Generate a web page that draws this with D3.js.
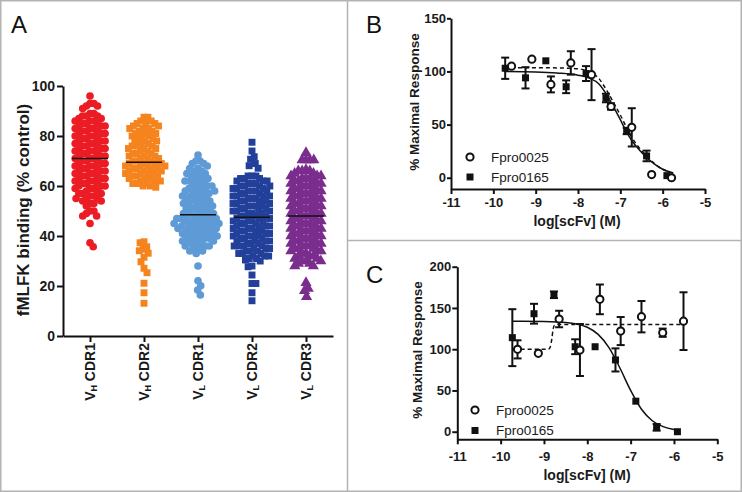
<!DOCTYPE html>
<html><head><meta charset="utf-8">
<script src="https://cdn.jsdelivr.net/npm/d3@7"></script>
<style>body{margin:0;background:#fff}svg{display:block}text{font-family:Arial,"Liberation Sans",sans-serif}</style>
</head><body><svg id="c" width="742" height="492"></svg>
<script>
// ---------- Panel A data ----------
const categories = ["VH CDR1","VH CDR2","VL CDR1","VL CDR2","VL CDR3"];
const groupColors = ["#ec1c24","#f5841f","#5e9bd6","#22409a","#7b2d8e"];
const groupShapes = ["circle","square","circle","square","triangle"];
const aTicks = [0,20,40,60,80,100];
const vhCdr1 = [96,93,93,92,92,91,89,89,88,88,88,87,87,86,86,86,85,85,85,84,84,84,83,83,83,82,82,82,81,81,81,80,80,80,79,79,79,78,78,78,77,77,77,76,76,76,75,75,75,74,74,74,73,73,73,72,72,72,71,71,71,70,70,70,69,69,69,68,68,68,67,67,67,66,66,66,65,65,65,64,64,64,63,63,63,62,62,62,61,61,61,60,60,60,59,59,59,58,58,57,57,57,56,56,55,55,55,54,54,53,53,52,50,50,49,48,48,45,37.3,35.7];
const vhCdr2 = [87.5,87.5,86,86,85,85,85,84,84,83,83,83,82,82,81,81,81,80,80,80,79,79,78,78,78,77,77,76,76,76,75,75,75,74,74,73,73,73,72,72,72,71,71,71,70,70,70,69,69,69,69,68,68,68,68,67,67,67,67,66,66,66,65,65,65,65,64,64,64,63,63,63,62,62,62,61,61,61,60,60,59.5,37.7,37.3,35.7,34.7,34.1,33.1,31.5,29.7,27.1,25.3,21.1,17.3,13.1];
const vlCdr1 = [72.4,70,70,69,69,68,67,67,66,66,65,65,64,64,63,63,62,62,62,61,61,60,60,60,59,59,59,58,58,58,57,57,57,56,56,56,55,55,55,54,54,54,53,53,53,52,52,52,51,51,51,50,50,50,49,49,49,48,48,48,48,47,47,47,47,46,46,46,46,45,45,45,45,44,44,44,44,43,43,43,43,42,42,42,41,41,41,41,40,40,40,39,39,39,39,38,38,38,37,37,37,36,36,36,35,35,34,34,33,28,22.1,20.1,18.4,16.4];
const vlCdr2 = [77.5,74,71.7,70.7,69,68.1,67.1,64,64,64,63,63,63,62,62,62,61,61,61,60,60,60,60,59,59,59,58,58,58,58,57,57,57,56,56,56,56,55,55,55,54,54,54,54,53,53,53,52,52,52,52,51,51,51,50,50,50,50,49,49,49,48,48,48,48,47,47,47,46,46,46,46,45,45,45,44,44,44,44,43,43,43,42,42,42,42,41,41,41,40,40,40,40,39,39,39,38,38,38,38,37,37,37,36,36,36,36,35,35,35,34,34,34,33,33,33,32,32,32,31,31,30.4,30,28,27.7,24.4,21,21,17.3,14.1];
const vlCdr3 = [73.3,70.4,70.4,70.4,70.4,66.5,66,66,66,65,65,64,64,64,63,63,63,62,62,62,61,61,61,60,60,60,59,59,59,58,58,58,57,57,57,56,56,56,55,55,55,54,54,54,53,53,53,52,52,52,51,51,51,50,50,50,49,49,49,48,48,48,47,47,47,46,46,46,45,45,45,44,44,44,43,43,43,42,42,42,41,41,41,40,40,40,39,39,39,38,38,38,37,37,37,36,36,36,35,35,35,34,34,34,33,33,32,32,32,31,31,30,30,30,29,29,28,28,21.3,19,18.1,15.7];
const groupValues = [vhCdr1, vhCdr2, vlCdr1, vlCdr2, vlCdr3];

// ---------- Panel B data ----------
const xTicksBC = [-11,-10,-9,-8,-7,-6,-5];
const bTicksY = [0,50,100,150];
const b25X = [-9.57,-9.09,-8.64,-8.17,-7.68,-7.22,-6.73,-6.26,-5.79];
const b25Y = [105,111.5,87.8,108,97,67,47.4,3,0];
const b25E = [0,0,7.5,11,24,3,18,0,0];
const b165X = [-9.72,-9.24,-8.76,-8.28,-7.81,-7.34,-6.85,-6.38,-5.9];
const b165Y = [103,94,110,85.6,98,75,44,20.5,2];
const b165E = [10,10,0,6,7,4,3,5,0];
const bFit165X = [-9.75,-9,-8.5,-8,-7.75,-7.5,-7.32,-7.15,-7.0,-6.85,-6.73,-6.55,-6.38,-6.2,-6.0,-5.75];
const bFit165Y = [100,99.5,98.5,96.5,94,88,78,66,54.6,43,35,26,19,13,8,4.5];
const bFit25X = [-9.75,-9,-8.5,-8,-7.75,-7.5,-7.32,-7.15,-7.0,-6.85,-6.73,-6.55,-6.38,-6.2,-6.0,-5.75];
const bFit25Y = [103.5,103.5,103.3,102.5,100,93,82,70,59,47,38,28,20,13.5,8,4];

// ---------- Panel C data ----------
const cTicksY = [0,50,100,150,200];
const c25X = [-9.61,-9.13,-8.65,-8.17,-7.71,-7.23,-6.75,-6.26,-5.78];
const c25Y = [99.8,95,136.6,99,160.4,122,139.4,120,134];
const c25E = [11,0,10,31.5,18,17,19,5,35];
const c165X = [-9.73,-9.23,-8.77,-8.28,-7.82,-7.35,-6.88,-6.4,-5.92];
const c165Y = [114,143,166,103,103,87,37,5.3,0];
const c165E = [34.5,12,4,9,0,14,0,4,0];
const cFit165X = [-9.73,-9.5,-9,-8.5,-8.25,-8,-7.75,-7.5,-7.25,-7,-6.75,-6.5,-6.25,-6,-5.9];
const cFit165Y = [134,134,133.7,132.5,130.7,126.6,118,102,77.5,50,27.2,13.3,6.1,2.7,1.9];
const cFit25X = [-9.7,-8.9,-8.86,-8.82,-8.79,-8.76,-8.7,-5.78];
const cFit25Y = [100,100,102,112,124,129,130,130];

const seriesNames = ["Fpro0025","Fpro0165"];

// ---------- drawing ----------
const svg = d3.select("#c");
svg.append("rect").attr("width",742).attr("height",492).attr("fill","#fff");
const frame = svg.append("g").attr("stroke","#b3b3b3").attr("fill","none").attr("stroke-width",1.5);
frame.append("rect").attr("x",0.75).attr("y",0.75).attr("width",740.5).attr("height",490.5);
frame.append("line").attr("x1",347.5).attr("x2",347.5).attr("y1",0).attr("y2",492);
frame.append("line").attr("x1",347.5).attr("x2",742).attr("y1",240.5).attr("y2",240.5);

function panelLetter(t,x,y){svg.append("text").attr("x",x).attr("y",y).attr("font-size",24).attr("fill","#111").text(t);}
panelLetter("A",11,33); panelLetter("B",366,33); panelLetter("C",366,283);

function styleAxis(g, fs){
  g.select(".domain").attr("stroke","#111").attr("stroke-width",2);
  g.selectAll(".tick line").attr("stroke","#111").attr("stroke-width",2);
  g.selectAll(".tick text").attr("font-size",fs).attr("font-weight","bold").attr("fill","#1a1a1a").attr("font-family","Arial,'Liberation Sans',sans-serif");
}
const fmt = d => String(d);

// ---- Panel A ----
const xA = d3.scaleLinear().domain([-0.5,4.5]).range([63,333]);
const yA = d3.scaleLinear().domain([0,100]).range([336,86]);
const gA = svg.append("g");
const ayAxis = gA.append("g").attr("transform","translate(63,0)")
  .call(d3.axisLeft(yA).tickValues(aTicks).tickFormat(fmt).tickSize(6).tickPadding(2).tickSizeOuter(0));
styleAxis(ayAxis,14);
const axAxis = gA.append("g").attr("transform","translate(0,336)")
  .call(d3.axisBottom(xA).tickValues(d3.range(categories.length)).tickFormat("").tickSize(6).tickSizeOuter(0));
styleAxis(axAxis,14);
categories.forEach((c,i)=>{
  const t = gA.append("text").attr("transform",`translate(${xA(i)+5},343) rotate(-90)`)
    .attr("text-anchor","end").attr("font-size",14).attr("font-weight","bold").attr("fill","#1a1a1a");
  t.append("tspan").text(c[0]);
  t.append("tspan").attr("font-size",9).attr("dy",2).text(c[1]);
  t.append("tspan").attr("dy",-2).text(c.slice(2));
});
gA.append("text").attr("transform","translate(29,210) rotate(-90)").attr("text-anchor","middle")
  .attr("font-size",17).attr("font-weight","bold").attr("fill","#1a1a1a").text("fMLFK binding (% control)");

// beeswarm layout with elliptical exclusion (horizontal Dx, vertical Dy)
function swarm(vals, Dx, Dy){
  const pts = vals.map(v=>({v, y:yA(v)})).sort((a,b)=>a.y-b.y);
  const placed=[]; let side=1;
  pts.forEach(p=>{
    const iv=[];
    placed.forEach(q=>{const dy=Math.abs(q.y-p.y); if(dy<Dy){const w=Dx*Math.sqrt(1-(dy/Dy)*(dy/Dy)); iv.push([q.dx-w,q.dx+w]);}});
    const cands=[0]; iv.forEach(([a,b])=>cands.push(a,b));
    let best=null;
    cands.forEach(c=>{
      if(iv.some(([a,b])=>c>a+1e-6&&c<b-1e-6)) return;
      if(best===null||Math.abs(c)<Math.abs(best)-1e-6) best=c;
      else if(Math.abs(Math.abs(c)-Math.abs(best))<1e-6 && Math.sign(c)===side) best=c;
    });
    p.dx=best; if(best!==0) side=-Math.sign(best);
    placed.push(p);
  });
  return pts;
}
const symTypes={circle:d3.symbolCircle,square:d3.symbolSquare,triangle:d3.symbolTriangle};
const symSizes={circle:46,square:48,triangle:54};
groupValues.forEach((vals,i)=>{
  const pts = swarm(vals, 3.9, 7);
  const sym = d3.symbol().type(symTypes[groupShapes[i]]).size(symSizes[groupShapes[i]]);
  gA.append("g").selectAll("path").data(pts).join("path")
    .attr("transform",d=>`translate(${xA(i)+d.dx},${d.y})`).attr("d",sym).attr("fill",groupColors[i]);
  const med = d3.median(vals);
  gA.append("line").attr("x1",xA(i)-18).attr("x2",xA(i)+18).attr("y1",yA(med)).attr("y2",yA(med))
    .attr("stroke","#111").attr("stroke-width",1.6);
});

// ---- Dose-response panels ----
function drPanel(opt){
  const x = d3.scaleLinear().domain([-11,-5]).range(opt.xr);
  const y = d3.scaleLinear().domain(opt.yd).range(opt.yr);
  const g = svg.append("g");
  const ya = g.append("g").attr("transform",`translate(${opt.xr[0]},0)`)
    .call(d3.axisLeft(y).tickValues(opt.yt).tickFormat(fmt).tickSize(opt.yts).tickPadding(opt.ytp).tickSizeOuter(0));
  styleAxis(ya,13);
  const xa = g.append("g").attr("transform",`translate(0,${opt.yr[0]})`)
    .call(d3.axisBottom(x).tickValues(xTicksBC).tickFormat(fmt).tickSize(5).tickPadding(opt.xtp).tickSizeOuter(0));
  styleAxis(xa,13);
  g.append("text").attr("x",opt.xt[0]).attr("y",opt.xt[1]).attr("text-anchor","middle")
    .attr("font-size",14).attr("font-weight","bold").attr("fill","#1a1a1a").text("log[scFv] (M)");
  g.append("text").attr("transform",`translate(${opt.yl[0]},${opt.yl[1]}) rotate(-90)`).attr("text-anchor","middle")
    .attr("font-size",13.5).attr("font-weight","bold").attr("fill","#1a1a1a").text("% Maximal Response");
  const line = d3.line().x(d=>x(d[0])).y(d=>y(d[1])).curve(d3.curveMonotoneX);
  g.append("path").attr("d",line(d3.zip(opt.f165x,opt.f165y))).attr("fill","none").attr("stroke","#111").attr("stroke-width",1.5);
  g.append("path").attr("d",line(d3.zip(opt.f25x,opt.f25y))).attr("fill","none").attr("stroke","#111").attr("stroke-width",1.5).attr("stroke-dasharray","4,3");
  function errs(X,Y,E){
    const d = d3.zip(X,Y,E).filter(r=>r[2]>0);
    const eg = g.append("g").attr("stroke","#111").attr("stroke-width",2);
    eg.selectAll(".v").data(d).join("line").attr("x1",r=>x(r[0])).attr("x2",r=>x(r[0])).attr("y1",r=>y(r[1]-r[2])).attr("y2",r=>y(r[1]+r[2]));
    eg.selectAll(".t").data(d).join("line").attr("x1",r=>x(r[0])-4).attr("x2",r=>x(r[0])+4).attr("y1",r=>y(r[1]+r[2])).attr("y2",r=>y(r[1]+r[2]));
    eg.selectAll(".b").data(d).join("line").attr("x1",r=>x(r[0])-4).attr("x2",r=>x(r[0])+4).attr("y1",r=>y(r[1]-r[2])).attr("y2",r=>y(r[1]-r[2]));
  }
  errs(opt.s165x,opt.s165y,opt.s165e);
  errs(opt.s25x,opt.s25y,opt.s25e);
  g.append("g").selectAll("rect").data(d3.zip(opt.s165x,opt.s165y)).join("rect")
    .attr("x",r=>x(r[0])-3.5).attr("y",r=>y(r[1])-3.5).attr("width",7).attr("height",7).attr("fill","#111");
  g.append("g").selectAll("circle").data(d3.zip(opt.s25x,opt.s25y)).join("circle")
    .attr("cx",r=>x(r[0])).attr("cy",r=>y(r[1])).attr("r",3.6).attr("fill","#fff").attr("stroke","#111").attr("stroke-width",2);
  // legend
  const lg = g.append("g");
  lg.append("circle").attr("cx",opt.lg[0]).attr("cy",opt.lg[1]).attr("r",3.6).attr("fill","#fff").attr("stroke","#111").attr("stroke-width",2);
  lg.append("rect").attr("x",opt.lg[0]-3.5).attr("y",opt.lg[1]+opt.lg[2]-3.5).attr("width",7).attr("height",7).attr("fill","#111");
  seriesNames.forEach((n,i)=>lg.append("text").attr("x",opt.lg[0]+21).attr("y",opt.lg[1]+i*opt.lg[2]).attr("dy","0.36em")
    .attr("font-size",13.5).attr("fill","#1a1a1a").text(n));
}
drPanel({xr:[451,705], yd:[-10.6,150], yr:[189,18.3], yt:bTicksY, yts:4, ytp:1, xtp:4,
  xt:[577,226], yl:[419,102], lg:[470,157,20],
  s25x:b25X,s25y:b25Y,s25e:b25E,s165x:b165X,s165y:b165Y,s165e:b165E,
  f165x:bFit165X,f165y:bFit165Y,f25x:bFit25X,f25y:bFit25Y});
drPanel({xr:[457.3,717.3], yd:[-9.2,200], yr:[439.3,266.7], yt:cTicksY, yts:5, ytp:1, xtp:7,
  xt:[587,480], yl:[422,350], lg:[475,410,20.5],
  s25x:c25X,s25y:c25Y,s25e:c25E,s165x:c165X,s165y:c165Y,s165e:c165E,
  f165x:cFit165X,f165y:cFit165Y,f25x:cFit25X,f25y:cFit25Y});
</script></body></html>
